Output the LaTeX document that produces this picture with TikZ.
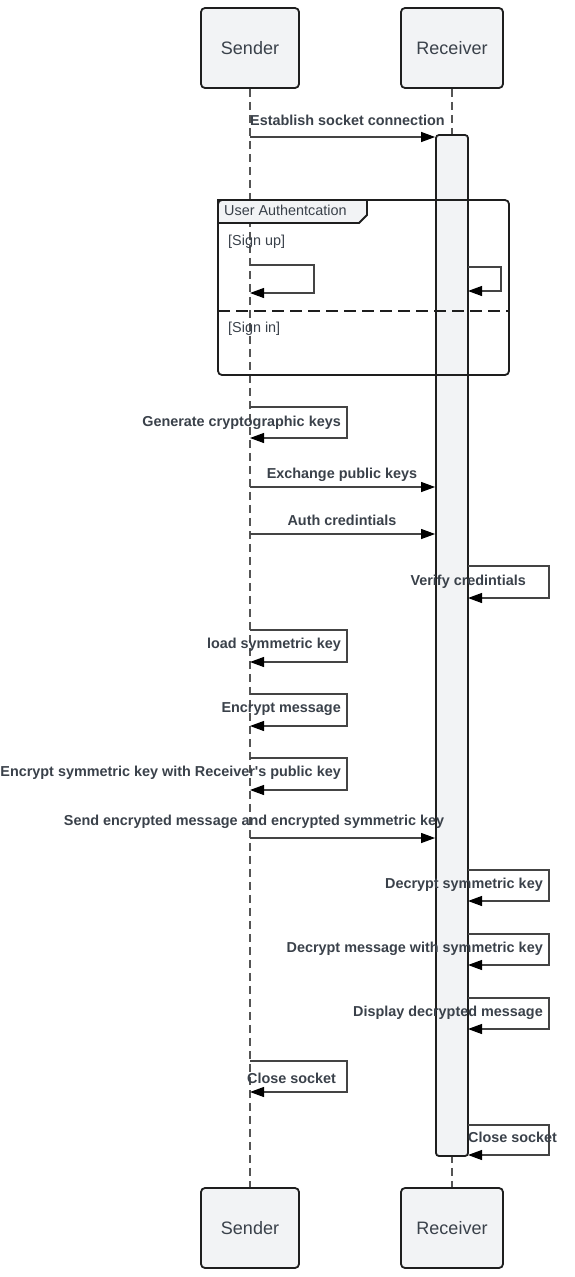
\documentclass[tikz,border=0pt]{standalone}
\usepackage{fontspec}
\setmainfont{Liberation Sans}
\usetikzlibrary{arrows.meta}
\definecolor{txt}{HTML}{3A414A}
\definecolor{boxfill}{HTML}{F2F3F5}
\definecolor{edge}{HTML}{1E1E1E}
\definecolor{lline}{HTML}{555555}
\tikzset{
  actor/.style={draw=edge, fill=boxfill, line width=1.8pt, rounded corners=4pt,
    minimum width=98pt, minimum height=80pt, text=txt,
    font=\fontsize{18}{21}\selectfont},
  actbar/.style={draw=edge, fill=boxfill, line width=1.8pt, rounded corners=3pt,
    minimum width=32pt, minimum height=1021pt, inner sep=0pt},
  lifeline/.style={draw=lline, line width=1.2pt, dash pattern=on 8pt off 5pt},
  msg/.style={draw=lline!80!black, line width=1.1pt, -{Triangle[length=14pt,width=10pt,color=black]}},
  lbl/.style={text=txt, inner sep=0pt, font=\fontsize{14.4}{17}\selectfont\bfseries},
  flbl/.style={text=txt, inner sep=0pt, font=\fontsize{14.4}{17}\selectfont},
}
\begin{document}
\begin{tikzpicture}[x=1pt,y=-1pt]
\useasboundingbox (0,0) rectangle (574,1277);
% actors
\node[actor] (st) at (250,48) {Sender};
\node[actor, minimum width=102pt] (rt) at (452,48) {Receiver};
\node[actor] (sb) at (250,1228) {Sender};
\node[actor, minimum width=102pt] (rb) at (452,1228) {Receiver};
% lifelines
\draw[lifeline] (st.south) -- (sb.north);
\draw[lifeline] (rt.south) -- (rb.north);
% activation bar
\node[actbar] (act) at (452,645.5) {};
% frame
\filldraw[draw=edge, fill=boxfill, line width=1.8pt] (218,200) -- (367,200) -- (367,215) -- (359,223) -- (218,223) -- cycle;
\draw[edge, line width=1.8pt, rounded corners=4pt] (218,200) rectangle (509,375);
\draw[edge, line width=1.8pt, dash pattern=on 12pt off 6pt] (218,311) -- (509,311);
\node[flbl, anchor=base west] (fl) at (224,215) {User Authentcation};
\node[flbl, anchor=base west] (g1) at (228,245) {[Sign up]};
\node[flbl, anchor=base west] (g2) at (228,332) {[Sign in]};
% coordinates on lifelines
\coordinate (m1) at (250,137);
\coordinate (su1) at (250,265); \coordinate (su2) at (250,293);
\coordinate (ru1) at (468,267); \coordinate (ru2) at (468,291);
\coordinate (gk1) at (250,407); \coordinate (gk2) at (250,438);
\coordinate (m2) at (250,487);
\coordinate (m3) at (250,534);
\coordinate (vc1) at (468,566); \coordinate (vc2) at (468,598);
\coordinate (ls1) at (250,630); \coordinate (ls2) at (250,662);
\coordinate (em1) at (250,694); \coordinate (em2) at (250,726);
\coordinate (ek1) at (250,758); \coordinate (ek2) at (250,790);
\coordinate (m4) at (250,838);
\coordinate (ds1) at (468,870); \coordinate (ds2) at (468,901);
\coordinate (dm1) at (468,934); \coordinate (dm2) at (468,965);
\coordinate (dd1) at (468,998); \coordinate (dd2) at (468,1029);
\coordinate (cs1) at (250,1061); \coordinate (cs2) at (250,1092);
\coordinate (cr1) at (468,1125); \coordinate (cr2) at (468,1155);
% messages
\draw[msg] (m1) -- (m1 -| act.west);
\node[lbl, anchor=base west] (l1) at (250,125) {Establish socket connection};
\draw[msg] (su1) -- ++(64,0) |- (su2);
\draw[msg] (ru1) -- ++(33,0) |- (ru2);
\draw[msg] (gk1) -- ++(97,0) |- (gk2);
\node[lbl, anchor=base east] (l2) at (341,426) {Generate cryptographic keys};
\draw[msg] (m2) -- (m2 -| act.west);
\node[lbl, anchor=base] (l3) at (342,478) {Exchange public keys};
\draw[msg] (m3) -- (m3 -| act.west);
\node[lbl, anchor=base] (l4) at (342,525) {Auth credintials};
\draw[msg] (vc1) -- ++(81,0) |- (vc2);
\node[lbl, anchor=base east] (l5) at (526,585) {Verify credintials};
\draw[msg] (ls1) -- ++(97,0) |- (ls2);
\node[lbl, anchor=base east] (l6) at (341,648) {load symmetric key};
\draw[msg] (em1) -- ++(97,0) |- (em2);
\node[lbl, anchor=base east] (l7) at (341,712) {Encrypt message};
\draw[msg] (ek1) -- ++(97,0) |- (ek2);
\node[lbl, anchor=base east] (l8) at (341,776) {Encrypt symmetric key with Receiver\textquotesingle s public key};
\draw[msg] (m4) -- (m4 -| act.west);
\node[lbl, anchor=base] (l9) at (254,825) {Send encrypted message and encrypted symmetric key};
\draw[msg] (ds1) -- ++(81,0) |- (ds2);
\node[lbl, anchor=base east] (l10) at (543,888) {Decrypt symmetric key};
\draw[msg] (dm1) -- ++(81,0) |- (dm2);
\node[lbl, anchor=base east] (l11) at (543,952) {Decrypt message with symmetric key};
\draw[msg] (dd1) -- ++(81,0) |- (dd2);
\node[lbl, anchor=base east] (l12) at (543,1016) {Display decrypted message};
\draw[msg] (cs1) -- ++(97,0) |- (cs2);
\node[lbl, anchor=base west] (l13) at (247,1083) {Close socket};
\draw[msg] (cr1) -- ++(81,0) |- (cr2);
\node[lbl, anchor=base west] (l14) at (468,1142) {Close socket};
\end{tikzpicture}
\end{document}
